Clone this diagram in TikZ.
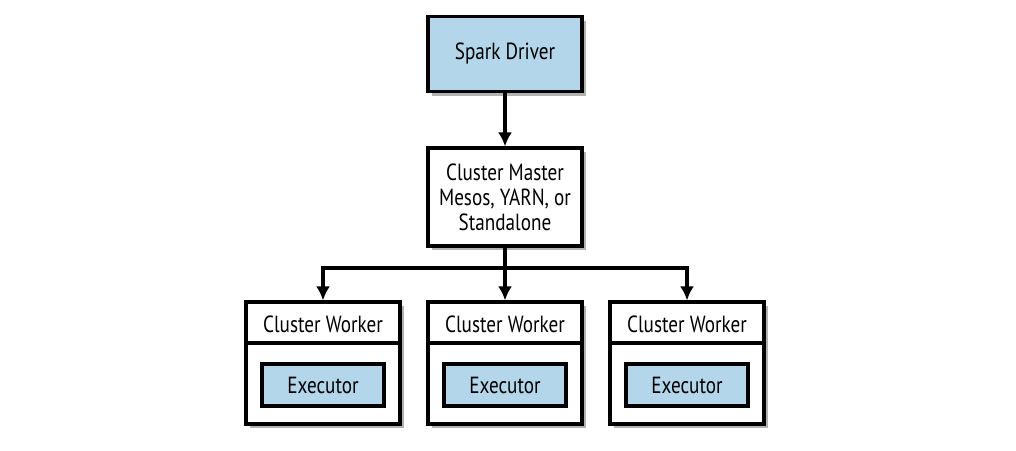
\documentclass[tikz,border=0pt]{standalone}
\usepackage{fontspec}
\setmainfont{PT Sans}[FakeStretch=0.82]
\usetikzlibrary{arrows.meta,shadows}
\definecolor{boxblue}{RGB}{179,214,235}
\tikzset{
	box/.style={draw, line width=1.8pt, fill=white, minimum width=3.08cm, drop shadow={opacity=0.5, fill=black!60, shadow xshift=2.5pt, shadow yshift=-2.5pt}},
	exec/.style={draw, line width=1.8pt, fill=boxblue, minimum width=2.44cm, minimum height=0.84cm},
}
\begin{document}
\begin{tikzpicture}[x=0.02cm, y=-0.02cm, >={Latex[length=8pt,width=8pt]}, font=\fontsize{13.3}{14.3}\selectfont]
	\useasboundingbox (0,0) rectangle (1016,450);
	\node[box, fill=boxblue, minimum height=1.5cm] (driver) at (505,54) {Spark Driver};
	\node[box, minimum height=1.96cm, align=center] (master) at (505,197) {Cluster Master\\Mesos, YARN, or\\Standalone};
	\coordinate (split) at (505,268);
	\foreach \n/\x in {a/323, b/505, c/687} {
		\node[box, minimum height=2.44cm] (worker\n) at (\x,363) {};
		\draw[line width=1.8pt] (\x-77,343) -- (\x+77,343);
		\node (label\n) at (\x,324) {Cluster Worker};
		\node[exec] (exec\n) at (\x,385) {Executor};
		\draw[->, line width=1.8pt] (split) -| (worker\n.north);
	}
	\draw[->, line width=1.8pt] (driver) -- (master);
	\draw[line width=1.8pt] (master) -- (split);
\end{tikzpicture}
\end{document}
